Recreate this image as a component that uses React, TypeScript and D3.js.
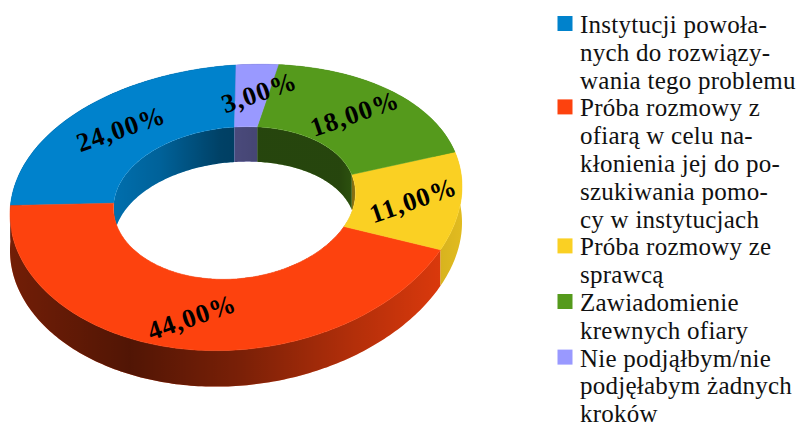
import * as d3 from 'd3';
import React from 'react';

const values = [24, 44, 11, 18, 3];
const colors = ['#0082cc', '#fd420e', '#fad023', '#559a1c', '#9999ff'];
const legendLines = [
  ['Instytucji powoła-', 'nych do rozwiązy-', 'wania tego problemu'],
  ['Próba rozmowy z', 'ofiarą w celu na-', 'kłonienia jej do po-', 'szukiwania pomo-', 'cy w instytucjach'],
  ['Próba rozmowy ze', 'sprawcą'],
  ['Zawiadomienie', 'krewnych ofiary'],
  ['Nie podjąłbym/nie', 'podjęłabym żadnych', 'kroków'],
];

const width = 798;
const height = 425;
const depth = 36;
const fontFamily = '"Liberation Serif", serif';

// the ring is a skewed ellipse in the picture, so each edge has its own fit
const outer = { cx: 236, cy: 207.5, rx: 226, ry: 142.5, a: -14, b: -7 };
const inner = { cx: 234.5, cy: 203, rx: 121, ry: 76, a: -7.5, b: -2.5 };

// labels sit a little off the slice middle in the reference
const labelShiftX = [8, 1, 0, -3, 7];

type Edge = typeof outer;

function project(e: Edge, t: number): [number, number] {
  const s = Math.sin(t);
  return [e.cx + e.rx * s, e.cy - e.ry * Math.cos(t) + e.a * s + e.b * s * s];
}

function edgePoints(e: Edge, a0: number, a1: number, shift = 0): [number, number][] {
  const n = Math.max(4, Math.ceil(Math.abs(a1 - a0) * 60));
  return d3.range(n + 1).map((i) => {
    const p = project(e, a0 + ((a1 - a0) * i) / n);
    return [p[0], p[1] + shift] as [number, number];
  });
}

const line = d3.line().curve(d3.curveLinear);
const closed = (pts: [number, number][]) => line(pts) + 'Z';

const pie = d3.pie<number>().sort(null).startAngle(0).endAngle(-2 * Math.PI);
const arcs = pie(values);

const locale = d3.formatLocale({ decimal: ',', thousands: ' ', grouping: [3], currency: ['', ''] });
const fmt = locale.format('.2f');

const outerShade = d3.scaleLinear<number>().domain([10, 130, 240, 350, 440, 462]).range([0.55, 0.68, 0.52, 0.3, 0.14, 0.1]);
const innerShade = d3.scaleLinear<number>().domain([113, 160, 220, 260, 340, 356]).range([0.15, 0.25, 0.5, 0.55, 0.55, 0.45]);

function Shade({ id, scale }: { id: string; scale: d3.ScaleLinear<number, number> }) {
  const dom = scale.domain();
  const x0 = dom[0];
  const x1 = dom[dom.length - 1];
  return (
    <linearGradient id={id} gradientUnits="userSpaceOnUse" x1={x0} x2={x1} y1={0} y2={0}>
      {dom.map((d) => (
        <stop key={d} offset={(d - x0) / (x1 - x0)} stopColor="#000" stopOpacity={scale(d)} />
      ))}
    </linearGradient>
  );
}

export default function App() {
  const hole = edgePoints(inner, 0, 2 * Math.PI);
  let lineIndex = 0;

  return (
    <svg width={width} height={height} style={{ position: 'absolute', left: 0, top: 0, background: '#fff' }}>
      <defs>
        <Shade id="outerShade" scale={outerShade} />
        <Shade id="innerShade" scale={innerShade} />
        <clipPath id="holeClip">
          <path d={closed(hole)} />
        </clipPath>
      </defs>

      {/* outer wall */}
      {arcs.map((d, i) => {
        const top = edgePoints(outer, d.startAngle, d.endAngle);
        const bottom = edgePoints(outer, d.endAngle, d.startAngle, depth);
        const p = closed([...top, ...bottom]);
        return (
          <g key={i}>
            <path d={p} fill={colors[i]} />
            <path d={p} fill="url(#outerShade)" />
          </g>
        );
      })}

      {/* inner wall, only what shows through the hole */}
      <g clipPath="url(#holeClip)">
        {arcs.map((d, i) => {
          const top = edgePoints(inner, d.startAngle, d.endAngle);
          const bottom = edgePoints(inner, d.endAngle, d.startAngle, depth - 1);
          const p = closed([...top, ...bottom]);
          return (
            <g key={i}>
              <path d={p} fill={colors[i]} />
              <path d={p} fill="url(#innerShade)" />
            </g>
          );
        })}
      </g>

      {/* top face */}
      {arcs.map((d, i) => {
        const a = edgePoints(outer, d.startAngle, d.endAngle);
        const b = edgePoints(inner, d.endAngle, d.startAngle);
        return <path key={i} d={closed([...a, ...b])} fill={colors[i]} stroke={colors[i]} strokeWidth={0.5} />;
      })}

      {/* value labels */}
      {arcs.map((d, i) => {
        const mid = (d.startAngle + d.endAngle) / 2;
        const po = project(outer, mid);
        const pi = project(inner, mid);
        const x = pi[0] + (po[0] - pi[0]) * 0.55 + labelShiftX[i];
        const y = pi[1] + (po[1] - pi[1]) * 0.55;
        return (
          <text
            key={i}
            transform={`translate(${x},${y}) rotate(-19)`}
            textAnchor="middle"
            dy="0.34em"
            fontFamily={fontFamily}
            fontWeight="bold"
            fontSize={26.5}
            letterSpacing={1}
            fill="#000"
          >
            {fmt(d.value) + '%'}
          </text>
        );
      })}

      {/* legend */}
      {legendLines.map((lines, i) => {
        const first = 33 + 27.8 * lineIndex;
        const texts = lines.map((t, j) => (
          <text
            key={j}
            x={580}
            y={first + 27.8 * j}
            fontFamily={fontFamily}
            fontSize={25}
            letterSpacing={0.25}
            fill="#111"
          >
            {t}
          </text>
        ));
        lineIndex += lines.length;
        return (
          <g key={i}>
            <rect x={557.5} y={first - 17} width={15} height={15} fill={colors[i]} />
            {texts}
          </g>
        );
      })}
    </svg>
  );
}
